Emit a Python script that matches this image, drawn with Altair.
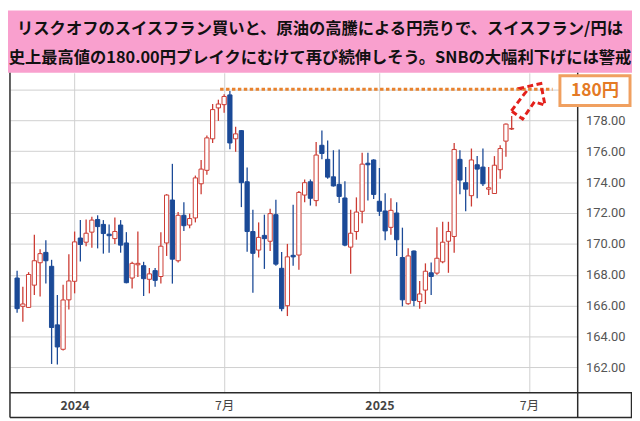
import altair as alt
import pandas as pd

# ---- weekly CHF/JPY candles (first week: 2023-10-23) ----
open_ = [167.79, 165.96, 165.89, 167.33, 168.78, 169.45, 168.55, 164.76, 163.18, 166.38,
         167.58, 170.38, 170.11, 170.76, 171.58, 171.26, 170.63, 170.34, 171.22, 170.06,
         167.79, 168.65, 168.59, 167.71, 168.27, 167.89, 170.06, 172.84, 168.91, 171.85,
         171.22, 171.68, 173.89, 174.76, 176.80, 178.80, 179.01, 179.64, 176.80, 177.33,
         174.02, 170.80, 169.60, 170.55, 170.17, 171.89, 168.42, 166.00, 169.26, 169.28,
         173.16, 174.02, 172.80, 176.38, 175.47, 174.34, 173.85, 172.97, 169.79, 170.80,
         172.11, 175.22, 175.43, 172.76, 172.13, 171.07, 172.00, 169.12, 166.13, 169.54,
         166.27, 167.01, 168.13, 168.11, 168.84, 170.17, 170.48, 175.47, 173.96, 173.12,
         175.12, 174.97, 173.54, 173.26, 174.80, 176.65, 177.43]
high = [168.27, 167.22, 168.17, 170.59, 169.66, 170.23, 168.97, 166.69, 167.35, 169.33,
        170.80, 171.54, 171.58, 171.75, 171.85, 171.54, 171.26, 171.70, 171.54, 170.76,
        168.84, 170.80, 168.84, 168.44, 168.44, 170.76, 173.22, 175.18, 172.06, 172.69,
        171.96, 174.42, 175.43, 177.01, 179.05, 179.33, 179.68, 179.89, 177.58, 177.37,
        174.95, 172.21, 171.39, 171.89, 172.27, 172.86, 169.47, 170.00, 172.53, 173.43,
        174.17, 174.17, 176.59, 177.33, 176.69, 176.06, 176.11, 174.06, 172.21, 173.01,
        175.89, 175.89, 175.47, 174.91, 173.28, 172.95, 172.69, 171.05, 169.71, 169.58,
        167.60, 168.74, 168.80, 171.07, 171.43, 171.43, 176.53, 176.06, 174.97, 176.17,
        175.68, 176.17, 174.97, 175.68, 176.38, 177.79, 178.27]
low = [165.54, 164.97, 165.85, 166.69, 166.59, 167.43, 162.23, 162.20, 163.10, 165.75,
       166.80, 168.86, 169.85, 169.75, 169.71, 169.37, 169.43, 170.00, 169.43, 167.45,
       167.12, 167.85, 166.63, 166.80, 167.22, 167.43, 169.22, 167.43, 168.80, 170.84,
       171.01, 171.39, 173.22, 174.48, 176.53, 177.96, 178.48, 176.13, 175.96, 172.38,
       169.49, 166.84, 169.12, 168.38, 169.54, 168.59, 165.64, 165.33, 168.59, 168.32,
       172.69, 172.48, 172.44, 175.47, 174.21, 173.71, 172.65, 169.85, 168.06, 170.27,
       171.33, 172.80, 172.90, 171.81, 170.23, 170.59, 169.22, 165.96, 166.06, 165.96,
       165.81, 166.11, 166.69, 168.00, 168.74, 168.13, 169.43, 173.22, 172.11, 172.42,
       172.95, 173.75, 173.16, 173.26, 174.21, 175.64, 177.37]
close = [165.81, 166.11, 168.02, 168.91, 169.37, 168.91, 164.59, 163.33, 166.37, 167.60,
         170.13, 169.96, 170.69, 171.54, 171.12, 170.67, 170.53, 170.80, 169.92, 167.49,
         168.74, 168.74, 167.75, 168.06, 167.64, 169.85, 173.16, 169.01, 171.85, 171.18,
         171.64, 174.27, 174.84, 176.86, 178.69, 179.05, 179.54, 176.53, 177.12, 173.96,
         170.80, 169.39, 170.42, 170.34, 171.96, 168.69, 165.81, 169.16, 169.16, 173.33,
         173.96, 172.95, 175.75, 175.85, 174.32, 173.75, 173.07, 169.92, 170.69, 172.06,
         175.16, 175.12, 173.20, 172.11, 170.84, 172.17, 170.27, 166.38, 169.22, 166.34,
         166.76, 168.23, 167.89, 169.07, 170.11, 170.80, 176.11, 174.13, 173.54, 175.43,
         174.84, 173.89, 173.63, 175.09, 176.17, 177.75, 177.47]

# axis ticks (candle index of first week of each labelled month)
x_tick_index = [10, 36, 63, 89]
x_tick_labels = ["2024", "7月", "2025", "7月"]
y_ticks = [162, 164, 166, 168, 170, 172, 174, 176, 178, 180]

title_lines = ["リスクオフのスイスフラン買いと、原油の高騰による円売りで、スイスフラン/円は",
               "史上最高値の180.00円ブレイクにむけて再び続伸しそう。SNBの大幅利下げには警戒"]
target_price = 180
target_label = "180円"
target_line_from = 35.3
target_line_to = 93.1

# dashed block arrow outline (candle index, price)
arrow_x = [85.95, 88.45, 87.5, 91.07, 91.78, 89.95, 87.9, 85.95]
arrow_y = [178.61, 179.82, 180.07, 180.38, 178.98, 179.19, 178.08, 178.61]

RED = "#CC3B33"
BLUE = "#1B4A97"
ORANGE = "#E8822E"
PINK = "#F9A0CE"
FRAME = "#2a2a2a"
GRID = "#cfcfcf"

W, H = 575, 324

df = pd.DataFrame({"i": list(range(len(open_))), "open": open_, "high": high,
                   "low": low, "close": close})
df["dir"] = ["up" if c >= o else "down" for o, c in zip(open_, close)]

xs = alt.Scale(domain=[-0.38, 96.62], nice=False, zero=False)
ys = alt.Scale(domain=[160.37, 181.07], nice=False, zero=False)

label_map = "{" + ",".join(f"'{v}':'{t}'" for v, t in zip(x_tick_index, x_tick_labels)) + "}"

x_axis = alt.Axis(values=x_tick_index, labelExpr=f"{label_map}[''+datum.value]",
                  grid=True, gridColor=GRID, gridWidth=1, domain=False, ticks=False, tickSize=0,
                  labelPadding=13, labelBaseline="middle", labelFontSize=12.5,
                  labelFont="Noto Sans CJK JP", labelColor="#444", labelOverlap=False,
                  labelFontWeight={"condition": {"test": "datum.value == 10 || datum.value == 63",
                                                 "value": "bold"}, "value": "normal"},
                  title=None)
y_axis = alt.Axis(orient="right", values=y_ticks,
                  labelExpr="datum.value >= 180 ? '' : format(datum.value, '.2f')",
                  grid=True, gridColor=GRID, gridWidth=1, domain=False, ticks=False, tickSize=0,
                  labelPadding=8, labelAlign="left", labelFontSize=13, labelFont="Roboto",
                  labelColor="#555", labelOverlap=False, title=None)


def X(field):
    return alt.X(field, scale=xs, axis=x_axis, title=None)


def Y(field):
    return alt.Y(field, scale=ys, axis=y_axis, title=None)


wick = alt.Chart(df).mark_rule(strokeWidth=1.3).encode(
    x=X("i:Q"), y=Y("low:Q"), y2="high:Q",
    color=alt.Color("dir:N", scale=alt.Scale(domain=["up", "down"], range=[RED, BLUE]), legend=None),
)

body = alt.Chart(df).mark_bar(size=4.3, strokeWidth=1).encode(
    x=X("i:Q"), y=Y("open:Q"), y2="close:Q",
    fill=alt.Fill("dir:N", scale=alt.Scale(domain=["up", "down"], range=["white", BLUE]), legend=None),
    stroke=alt.Stroke("dir:N", scale=alt.Scale(domain=["up", "down"], range=[RED, BLUE]), legend=None),
)

tdf = pd.DataFrame({"x0": [target_line_from], "x1": [target_line_to], "y": [target_price]})
target_line = alt.Chart(tdf).mark_rule(color=ORANGE, strokeWidth=3, strokeDash=[3.5, 2.5]).encode(
    x=X("x0:Q"), x2="x1:Q", y=Y("y:Q"))

adf = pd.DataFrame({"x": arrow_x, "y": arrow_y, "k": list(range(len(arrow_x)))})
arrow = alt.Chart(adf).mark_line(color="#E3201B", strokeWidth=3, strokeDash=[6, 3.5],
                                 strokeJoin="miter").encode(
    x=X("x:Q"), y=Y("y:Q"), order="k:Q")

one = pd.DataFrame({"a": [0]})

pink = alt.Chart(one).mark_rect(color=PINK).encode(
    x=alt.value(-2), x2=alt.value(630), y=alt.value(-63), y2=alt.value(0))

t1 = alt.Chart(one).mark_text(text=title_lines[0], font="Noto Sans CJK JP", fontWeight="bold",
                              fontSize=16.5, color="#111", align="center", baseline="middle").encode(
    x=alt.value(314), y=alt.value(-44.5))
t2 = alt.Chart(one).mark_text(text=title_lines[1], font="Noto Sans CJK JP", fontWeight="bold",
                              fontSize=16.5, color="#111", align="center", baseline="middle").encode(
    x=alt.value(314), y=alt.value(-15))

box = alt.Chart(one).mark_rect(fill="white", stroke="#F0A060", strokeWidth=3).encode(
    x=alt.value(557), x2=alt.value(628), y=alt.value(3), y2=alt.value(33))
box_text = alt.Chart(one).mark_text(text=target_label, font="Noto Sans CJK JP", fontWeight="bold",
                                    fontSize=17.5, color="#E47A25", align="center",
                                    baseline="middle").encode(x=alt.value(592.5), y=alt.value(18.5))


def vline(x, y0, y1):
    return alt.Chart(one).mark_rule(color=FRAME, strokeWidth=1.5).encode(
        x=alt.value(x), y=alt.value(y0), y2=alt.value(y1))


def hline(y, x0, x1):
    return alt.Chart(one).mark_rule(color=FRAME, strokeWidth=1.5).encode(
        y=alt.value(y), x=alt.value(x0), x2=alt.value(x1))


frame = [vline(0, 0, 349), vline(W, 0, 349), vline(629.5, 324, 349),
         hline(H, 0, 630), hline(349, 0, 630)]

chart = alt.layer(wick, body, target_line, arrow, pink, t1, t2, *frame, box, box_text).properties(
    width=W, height=H,
    padding={"left": 2, "top": 63, "right": 55, "bottom": 26},
    autosize="none",
    background="white",
).configure_view(strokeWidth=0)

chart.save("out.html", embed_options={"renderer": "svg", "actions": False})
